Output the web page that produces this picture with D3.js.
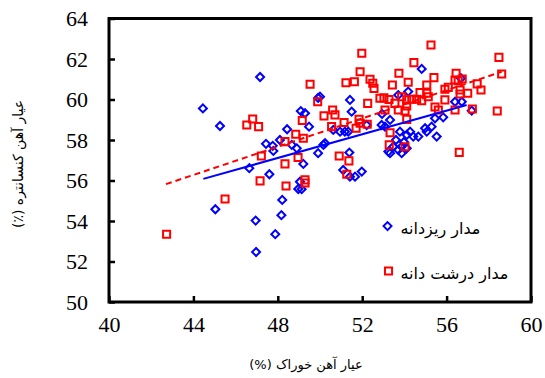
<!DOCTYPE html>
<html>
<head>
<meta charset="utf-8">
<script src="https://cdn.jsdelivr.net/npm/d3@7"></script>
<style>
  body { margin: 0; background: #fff; }
  svg { display: block; }
</style>
</head>
<body>
<svg id="chart"></svg>
<script>
// fine-grained circuit (blue diamonds)
const fineX = [47.16, 44.45, 45.26, 49.09, 49.29, 49.48, 48.44, 47.44, 47.76, 47.79, 48.66, 48.9, 49.91, 49.91,
  45.04, 46.95, 46.97, 47.88, 48.17, 48.21, 47.6, 46.65, 49.21, 49.05, 49.13, 48.97, 48.1, 50.24, 51.39,
  51.1, 51.42, 51.66, 51.98, 50.0, 51.42, 51.5, 50.63, 50.95, 51.18, 51.34, 52.21, 54.82, 56.68, 53.71,
  54.18, 56.4, 56.72, 57.19, 55.45, 55.84, 52.92, 53.08, 53.32, 53.79, 54.11, 54.27, 54.42, 54.66, 54.98,
  55.29, 55.53, 53.24, 53.47, 53.71, 53.87, 54.11, 53.32, 53.87, 50.16, 52.94, 55.06, 53.6, 53.98];
const fineY = [61.11, 59.56, 58.69, 59.43, 59.32, 58.66, 58.53, 57.81, 57.71, 57.46, 57.76, 57.59, 60.08, 57.35,
  54.58, 54.02, 52.47, 53.35, 54.29, 55.04, 56.31, 56.61, 56.82, 55.94, 55.57, 55.58, 58.0, 57.84, 57.38,
  56.52, 56.19, 56.19, 56.44, 60.14, 59.98, 59.4, 58.5, 58.41, 58.41, 58.41, 58.74, 61.51, 61.05, 60.22,
  60.39, 59.89, 59.89, 59.45, 59.07, 59.12, 58.74, 58.66, 58.99, 58.41, 58.25, 58.41, 58.17, 58.17, 58.58,
  58.66, 58.17, 57.43, 57.67, 57.51, 57.67, 57.59, 57.35, 57.35, 57.76, 59.29, 58.41, 58.0, 57.9];

// coarse-grained circuit (red squares)
const coarseX = [49.53, 46.53, 46.81, 47.09, 49.16, 48.85, 48.34, 49.21, 47.22, 49.89, 50.19, 48.96, 42.73, 45.5,
  47.16, 48.39, 48.34, 49.29, 49.29, 51.98, 51.9, 51.23, 51.63, 52.37, 52.5, 52.56, 52.84, 52.26, 50.6,
  50.71, 51.14, 51.85, 51.9, 50.55, 51.71, 52.24, 50.91, 51.37, 51.27, 55.26, 58.48, 58.61, 54.45, 53.74,
  54.18, 53.43, 55.06, 55.4, 56.45, 56.4, 56.55, 56.74, 55.92, 56.08, 56.64, 57.0, 56.64, 57.45, 57.63,
  54.74, 55.06, 55.13, 53.03, 53.27, 53.87, 54.11, 54.35, 54.58, 54.82, 53.55, 53.71, 54.11, 54.03, 53.08,
  55.45, 55.61, 55.92, 56.4, 57.22, 58.4, 54.11, 53.32, 53.28, 54.03, 56.6];
const coarseY = [60.75, 58.74, 59.04, 58.66, 58.96, 58.28, 57.92, 58.09, 57.21, 59.89, 59.19, 57.14, 53.35, 55.09,
  55.98, 55.73, 56.82, 56.03, 55.88, 62.28, 61.37, 60.83, 60.88, 61.0, 60.8, 60.55, 60.06, 59.81, 59.48,
  59.24, 58.86, 59.02, 58.83, 58.66, 58.58, 58.78, 57.21, 56.97, 56.31, 62.69, 62.08, 61.26, 61.82, 61.3,
  60.85, 60.72, 60.72, 61.08, 61.3, 60.96, 60.93, 61.01, 60.51, 60.6, 60.47, 60.31, 60.27, 60.77, 60.47,
  60.34, 60.31, 60.14, 60.08, 60.0, 60.14, 59.98, 60.01, 60.01, 59.94, 59.81, 59.48, 59.68, 59.43, 59.48,
  59.63, 59.48, 59.98, 59.48, 59.53, 59.43, 59.02, 58.36, 57.76, 57.67, 57.39];

// trend lines (end points)
const fineTrendX = [44.47, 56.95];
const fineTrendY = [56.08, 59.73];
const coarseTrendX = [42.7, 58.61];
const coarseTrendY = [55.82, 61.37];

const xTicks = [40, 44, 48, 52, 56, 60];
const yTicks = [50, 52, 54, 56, 58, 60, 62, 64];
const legendLabels = ['مدار ریزدانه', 'مدار درشت دانه'];
const xTitle = 'عیار آهن خوراک (%)';
const yTitle = 'عیار آهن کنسانتره (٪)';

const W = 545, H = 378;
const margin = { top: 18.5, right: 14, bottom: 76, left: 109 };
const width = W - margin.left - margin.right;
const height = H - margin.top - margin.bottom;

const svg = d3.select('#chart')
  .attr('width', W)
  .attr('height', H);

const g = svg.append('g')
  .attr('transform', `translate(${margin.left},${margin.top})`);

const xScale = d3.scaleLinear().domain([40, 60]).range([0, width]);
const yScale = d3.scaleLinear().domain([50, 64]).range([height, 0]);

const numFont = '"Liberation Serif", "Times New Roman", serif';
const faFont = '"DejaVu Sans", "Noto Sans", sans-serif';
const RLM = '\u200F';

// markers
const fine = fineX.map((x, i) => ({ x, y: fineY[i] }));
const coarse = coarseX.map((x, i) => ({ x, y: coarseY[i] }));

const diamond = d3.symbol(d3.symbolSquare, 32)();
const square = d3.symbol(d3.symbolSquare, 50)();

g.selectAll('.fine')
  .data(fine)
  .join('path')
  .attr('class', 'fine')
  .attr('d', diamond)
  .attr('transform', d => `translate(${xScale(d.x)},${yScale(d.y)}) rotate(45)`)
  .attr('fill', 'none')
  .attr('stroke', '#0000ff')
  .attr('stroke-width', 2);

g.selectAll('.coarse')
  .data(coarse)
  .join('path')
  .attr('class', 'coarse')
  .attr('d', square)
  .attr('transform', d => `translate(${xScale(d.x)},${yScale(d.y)})`)
  .attr('fill', 'none')
  .attr('stroke', '#ff0000')
  .attr('stroke-width', 2);

// trend lines
const line = d3.line()
  .x(d => xScale(d[0]))
  .y(d => yScale(d[1]));

g.append('path')
  .datum(fineTrendX.map((x, i) => [x, fineTrendY[i]]))
  .attr('d', line)
  .attr('fill', 'none')
  .attr('stroke', '#0000ff')
  .attr('stroke-width', 2);

g.append('path')
  .datum(coarseTrendX.map((x, i) => [x, coarseTrendY[i]]))
  .attr('d', line)
  .attr('fill', 'none')
  .attr('stroke', '#ff0000')
  .attr('stroke-width', 2)
  .attr('stroke-dasharray', '6,4');

// axes (ticks point inward)
const xAxis = g.append('g')
  .attr('transform', `translate(0,${height})`)
  .call(d3.axisBottom(xScale).tickValues(xTicks).tickSize(-6).tickPadding(14).tickFormat(d3.format('d')));

const yAxis = g.append('g')
  .call(d3.axisLeft(yScale).tickValues(yTicks).tickSize(-6).tickPadding(21).tickFormat(d3.format('d')));

[xAxis, yAxis].forEach(ax => {
  ax.select('.domain').remove();
  ax.selectAll('line').attr('stroke', '#000').attr('stroke-width', 2.5);
  ax.selectAll('text')
    .style('font-family', numFont)
    .style('font-size', '22px')
    .attr('fill', '#000');
});

// frame
g.append('rect')
  .attr('width', width)
  .attr('height', height)
  .attr('fill', 'none')
  .attr('stroke', '#000')
  .attr('stroke-width', 3);

// legend
const legend = g.append('g')
  .attr('transform', `translate(${xScale(53.2)},${yScale(53.75)})`);

legend.append('path')
  .attr('d', diamond)
  .attr('transform', 'rotate(45)')
  .attr('fill', 'none')
  .attr('stroke', '#0000ff')
  .attr('stroke-width', 2);

legend.append('path')
  .attr('d', square)
  .attr('transform', 'translate(1,45)')
  .attr('fill', 'none')
  .attr('stroke', '#ff0000')
  .attr('stroke-width', 2);

legend.selectAll('text')
  .data(legendLabels)
  .join('text')
  .attr('x', 13)
  .attr('y', (d, i) => 8 + i * 45)
  .attr('text-anchor', 'start')
  .style('font-family', faFont)
  .style('font-size', '16px')
  .attr('fill', '#000')
  .text(d => d);

// axis titles (right-to-left paragraphs)
svg.append('text')
  .attr('x', 306)
  .attr('y', 369)
  .attr('direction', 'rtl')
  .attr('text-anchor', 'middle')
  .style('font-family', faFont)
  .style('font-size', '13px')
  .attr('fill', '#000')
  .text(RLM + xTitle + RLM);

svg.append('text')
  .attr('transform', 'translate(23,164) rotate(-90)')
  .attr('direction', 'rtl')
  .attr('text-anchor', 'middle')
  .style('font-family', faFont)
  .style('font-size', '14px')
  .attr('fill', '#000')
  .text(RLM + yTitle + RLM);
</script>
</body>
</html>
